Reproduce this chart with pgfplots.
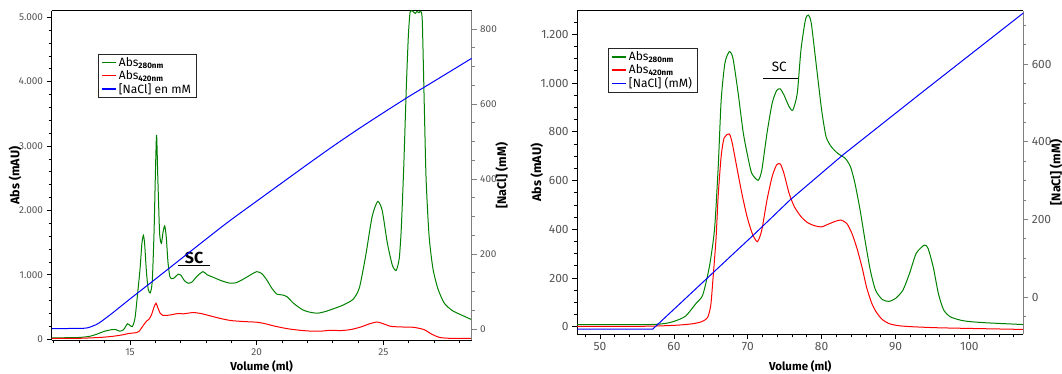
\documentclass[border=0pt]{standalone}
\usepackage{pgfplots}
\pgfplotsset{compat=1.18}
\usepackage{fontspec}
\setmainfont{Fira Sans}
\definecolor{cgreen}{RGB}{0,128,0}
\definecolor{cred}{RGB}{255,0,0}
\definecolor{cblue}{RGB}{0,0,255}
\definecolor{tickgray}{RGB}{85,85,85}
\definecolor{axgray}{RGB}{128,128,128}

\pgfplotsset{
  base/.style={
    scale only axis, anchor=south west,
    tick align=outside,
    major tick length=5pt, minor tick length=3pt,
    scaled x ticks=false, scaled y ticks=false,
    separate axis lines,
    axis line style={line width=0.9pt, black},
    every tick/.style={line width=0.8pt, black},
    tick label style={text=tickgray},
    xlabel style={font=\bfseries\fontsize{11.5}{13}\selectfont},
    ylabel style={font=\bfseries\fontsize{12.5}{14}\selectfont},
    legend cell align=left,
    legend style={draw=black!85, line width=0.9pt, fill=white, font=\fontsize{12}{14}\selectfont,
      inner xsep=3pt, inner ysep=1pt, row sep=-1.5pt},
    /pgf/number format/1000 sep={.},
    /pgf/number format/assume math mode=true,
  },
  sec/.style={
    axis y line*=right, axis x line=none,
    y axis line style={line width=1.3pt, axgray},
    ytick style={axgray, line width=0.8pt},
  },
  dat/.style={line width=1pt, smooth, tension=0.4},
  legline/.style={legend image code/.code={\draw[##1] (0pt,0pt) -- (14pt,0pt);}},
}

\begin{document}
\begin{tikzpicture}
% ================= LEFT CHART =================
\begin{axis}[base, at={(51.6pt,33.5pt)}, width=420.1pt, height=329.8pt,
  xmin=11.91, xmax=28.48, ymin=-19, ymax=5102,
  xtick={15,20,25}, minor xtick={12,13,...,28},
  ytick={0,1000,...,5000}, minor ytick={0,200,...,5000},
  xtick pos=left, ytick pos=left,
  tick label style={font=\fontsize{10}{12}\selectfont},
  xlabel={Volume (ml)}, ylabel={Abs (mAU)},
  xlabel style={at={(rel axis cs:0.5,0)}, anchor=center, yshift=-26.2pt},
  ylabel style={at={([xshift=-36.6pt]rel axis cs:0,0.5)}, anchor=center},
]
\addplot[dat, cgreen] table {
11.91 22
12.5 24
13.0 28
13.4 45
13.7 80
14.0 125
14.3 150
14.45 150
14.6 125
14.75 150
14.9 240
15.0 215
15.1 200
15.2 330
15.3 700
15.4 1100
15.47 1480
15.53 1615
15.58 1480
15.65 1050
15.72 780
15.8 720
15.88 900
15.95 1650
16.0 2500
16.05 3175
16.1 2500
16.17 1650
16.24 1490
16.3 1650
16.37 1760
16.43 1600
16.5 1200
16.57 980
16.65 940
16.75 955
16.9 1010
17.0 1000
17.15 910
17.3 870
17.45 890
17.65 980
17.88 1050
18.05 1000
18.3 960
18.6 910
18.95 870
19.2 880
19.5 940
19.8 1010
20.0 1050
20.2 1020
20.4 920
20.6 790
20.8 700
21.0 690
21.2 660
21.45 560
21.8 460
22.1 420
22.4 405
22.7 430
23.0 470
23.4 530
23.8 620
24.05 800
24.3 1300
24.55 1900
24.77 2140
24.95 2000
25.15 1500
25.35 1150
25.5 1070
25.62 1250
25.7 1700
25.8 2680
25.9 3900
25.98 4700
26.05 5080
26.15 5095
26.25 5060
26.32 5090
26.4 5070
26.47 5095
26.53 4950
26.6 3800
26.68 2500
26.8 1600
26.95 1100
27.15 780
27.4 560
27.7 450
28.0 390
28.48 305
};
\addplot[dat, cred] table {
11.91 12
13.0 15
13.8 28
14.3 45
14.7 68
14.95 90
15.2 100
15.35 120
15.5 200
15.65 280
15.75 310
15.85 380
15.95 500
16.03 560
16.1 490
16.2 400
16.3 370
16.55 375
16.9 400
17.1 395
17.5 415
17.8 400
18.2 360
18.6 320
19.0 290
19.5 275
20.0 265
20.3 245
20.7 205
21.2 165
21.7 140
22.2 125
22.6 128
22.9 140
23.3 135
23.7 150
24.1 190
24.45 240
24.75 268
25.0 240
25.3 200
25.8 190
26.2 185
26.6 150
26.9 80
27.2 30
27.6 15
28.48 12
};
\draw[line width=1pt] (axis cs:16.9,1150) -- (axis cs:18.16,1150);
\node[font=\bfseries\fontsize{16}{18}\selectfont, anchor=center] at (axis cs:17.53,1255) {SC};
\end{axis}
\begin{axis}[base, sec, legline, at={(51.6pt,33.5pt)}, width=420.1pt, height=329.8pt,
  xmin=11.91, xmax=28.48, ymin=-30.7, ymax=849,
  ytick={0,200,...,800}, minor ytick={0,50,...,800},
  tick label style={font=\fontsize{10}{12}\selectfont},
  ylabel={[NaCl] (mM)},
  ylabel style={at={([xshift=30pt]rel axis cs:1,0.5)}, anchor=center},
  legend style={at={(0.111,0.869)}, anchor=north west},
]
\addplot[dat, cblue, forget plot] table {
11.91 1
13.2 2
13.5 7
13.65 11
13.87 20
14.3 42
15.0 80
15.87 126
18.67 275
20.0 341
21.0 390
22.0 439
23.0 487
24.0 533
25.0 577
26.0 620
27.0 661
28.48 722
};
\addlegendimage{draw=cgreen, line width=1.2pt}
\addlegendentry{Abs\textsubscript{\textbf{280nm}}}
\addlegendimage{draw=cred, line width=1.2pt}
\addlegendentry{Abs\textsubscript{\textbf{420nm}}}
\addlegendimage{draw=cblue, line width=1.2pt}
\addlegendentry{[NaCl] en mM}
\end{axis}

% ================= RIGHT CHART =================
\begin{axis}[base, at={(577.2pt,39.7pt)}, width=446.1pt, height=323.6pt,
  xmin=46.91, xmax=107.3, ymin=-31, ymax=1297,
  xtick={50,60,...,100}, minor xtick={48,50,...,106},
  ytick={0,200,...,1200}, minor ytick={0,50,...,1250},
  xtick pos=left, ytick pos=left,
  tick label style={font=\fontsize{12}{14}\selectfont},
  xlabel={Volume (ml)}, ylabel={Abs (mAU)},
  xlabel style={at={(rel axis cs:0.5,0)}, anchor=center, yshift=-32.4pt},
  ylabel style={at={([xshift=-40.5pt]rel axis cs:0,0.5)}, anchor=center},
]
\addplot[dat, cgreen] table {
46.91 9
56.6 9
58.9 14
60.2 24
61.6 44
63.0 96
63.9 130
64.8 246
65.5 400
66.0 657
66.4 930
66.9 1081
67.5 1129
68.0 1101
68.7 958
69.4 794
70.1 684
70.55 629
71.4 601
71.9 643
72.6 794
73.3 917
73.9 969
74.4 976
74.9 951
75.6 903
76.1 889
76.7 958
77.2 1136
77.8 1259
78.2 1279
78.6 1245
79.3 1067
80.0 889
80.6 780
81.3 739
82.2 711
83.2 691
83.9 657
84.5 590
85.2 480
85.9 350
86.6 230
87.3 150
88.2 112
89.1 104
90.0 116
91.0 150
91.9 219
92.8 301
93.9 335
94.4 322
95.1 246
95.8 137
96.5 70
97.4 41
98.8 27
100.1 21
102.4 16
107.3 9
};
\addplot[dat, cred] table {
46.91 2
56.0 2
60.2 6
62.5 12
63.7 20
64.1 26
64.6 40
65.0 90
65.3 200
65.7 360
66.0 540
66.4 700
66.8 775
67.5 791
67.9 753
68.5 657
69.2 547
69.9 452
70.6 383
71.3 349
71.9 397
72.6 520
73.3 616
73.9 664
74.4 668
74.9 629
75.6 547
76.3 493
77.2 452
78.1 427
79.0 415
80.0 410
80.9 421
81.8 432
82.6 438
83.4 424
84.1 383
84.8 320
85.5 240
86.1 160
86.8 95
87.4 60
88.2 30
89.2 12
90.5 4
92.3 0
95.5 -4
100.1 -7
107.3 -11
};
\draw[line width=1pt] (axis cs:72.1,1019) -- (axis cs:76.74,1019);
\node[font=\fontsize{13.5}{15}\selectfont, anchor=center] at (axis cs:74.26,1068) {SC};
\end{axis}
\begin{axis}[base, sec, legline, at={(577.2pt,39.7pt)}, width=446.1pt, height=323.6pt,
  xmin=46.91, xmax=107.3, ymin=-96, ymax=738,
  ytick={0,200,400,600}, minor ytick={-50,0,...,700},
  tick label style={font=\fontsize{12}{14}\selectfont},
  ylabel={[NaCl] (mM)},
  ylabel style={at={([xshift=32.7pt]rel axis cs:1,0.5)}, anchor=center},
  legend style={at={(0.0697,0.884)}, anchor=north west},
]
\addplot[line width=1pt, cblue, forget plot] table {
46.91 -82.6
57.13 -82.6
62.0 4
67.0 93
71.0 164
75.71 250
82.92 367
93.75 530
107.3 732
};
\addlegendimage{draw=cgreen, line width=1.2pt}
\addlegendentry{Abs\textsubscript{\textbf{280nm}}}
\addlegendimage{draw=cred, line width=1.2pt}
\addlegendentry{Abs\textsubscript{\textbf{420nm}}}
\addlegendimage{draw=cblue, line width=1.2pt}
\addlegendentry{[NaCl] (mM)}
\end{axis}
\pgfresetboundingbox
\useasboundingbox (0,0) rectangle (1062pt,374pt);
\end{tikzpicture}
\end{document}
